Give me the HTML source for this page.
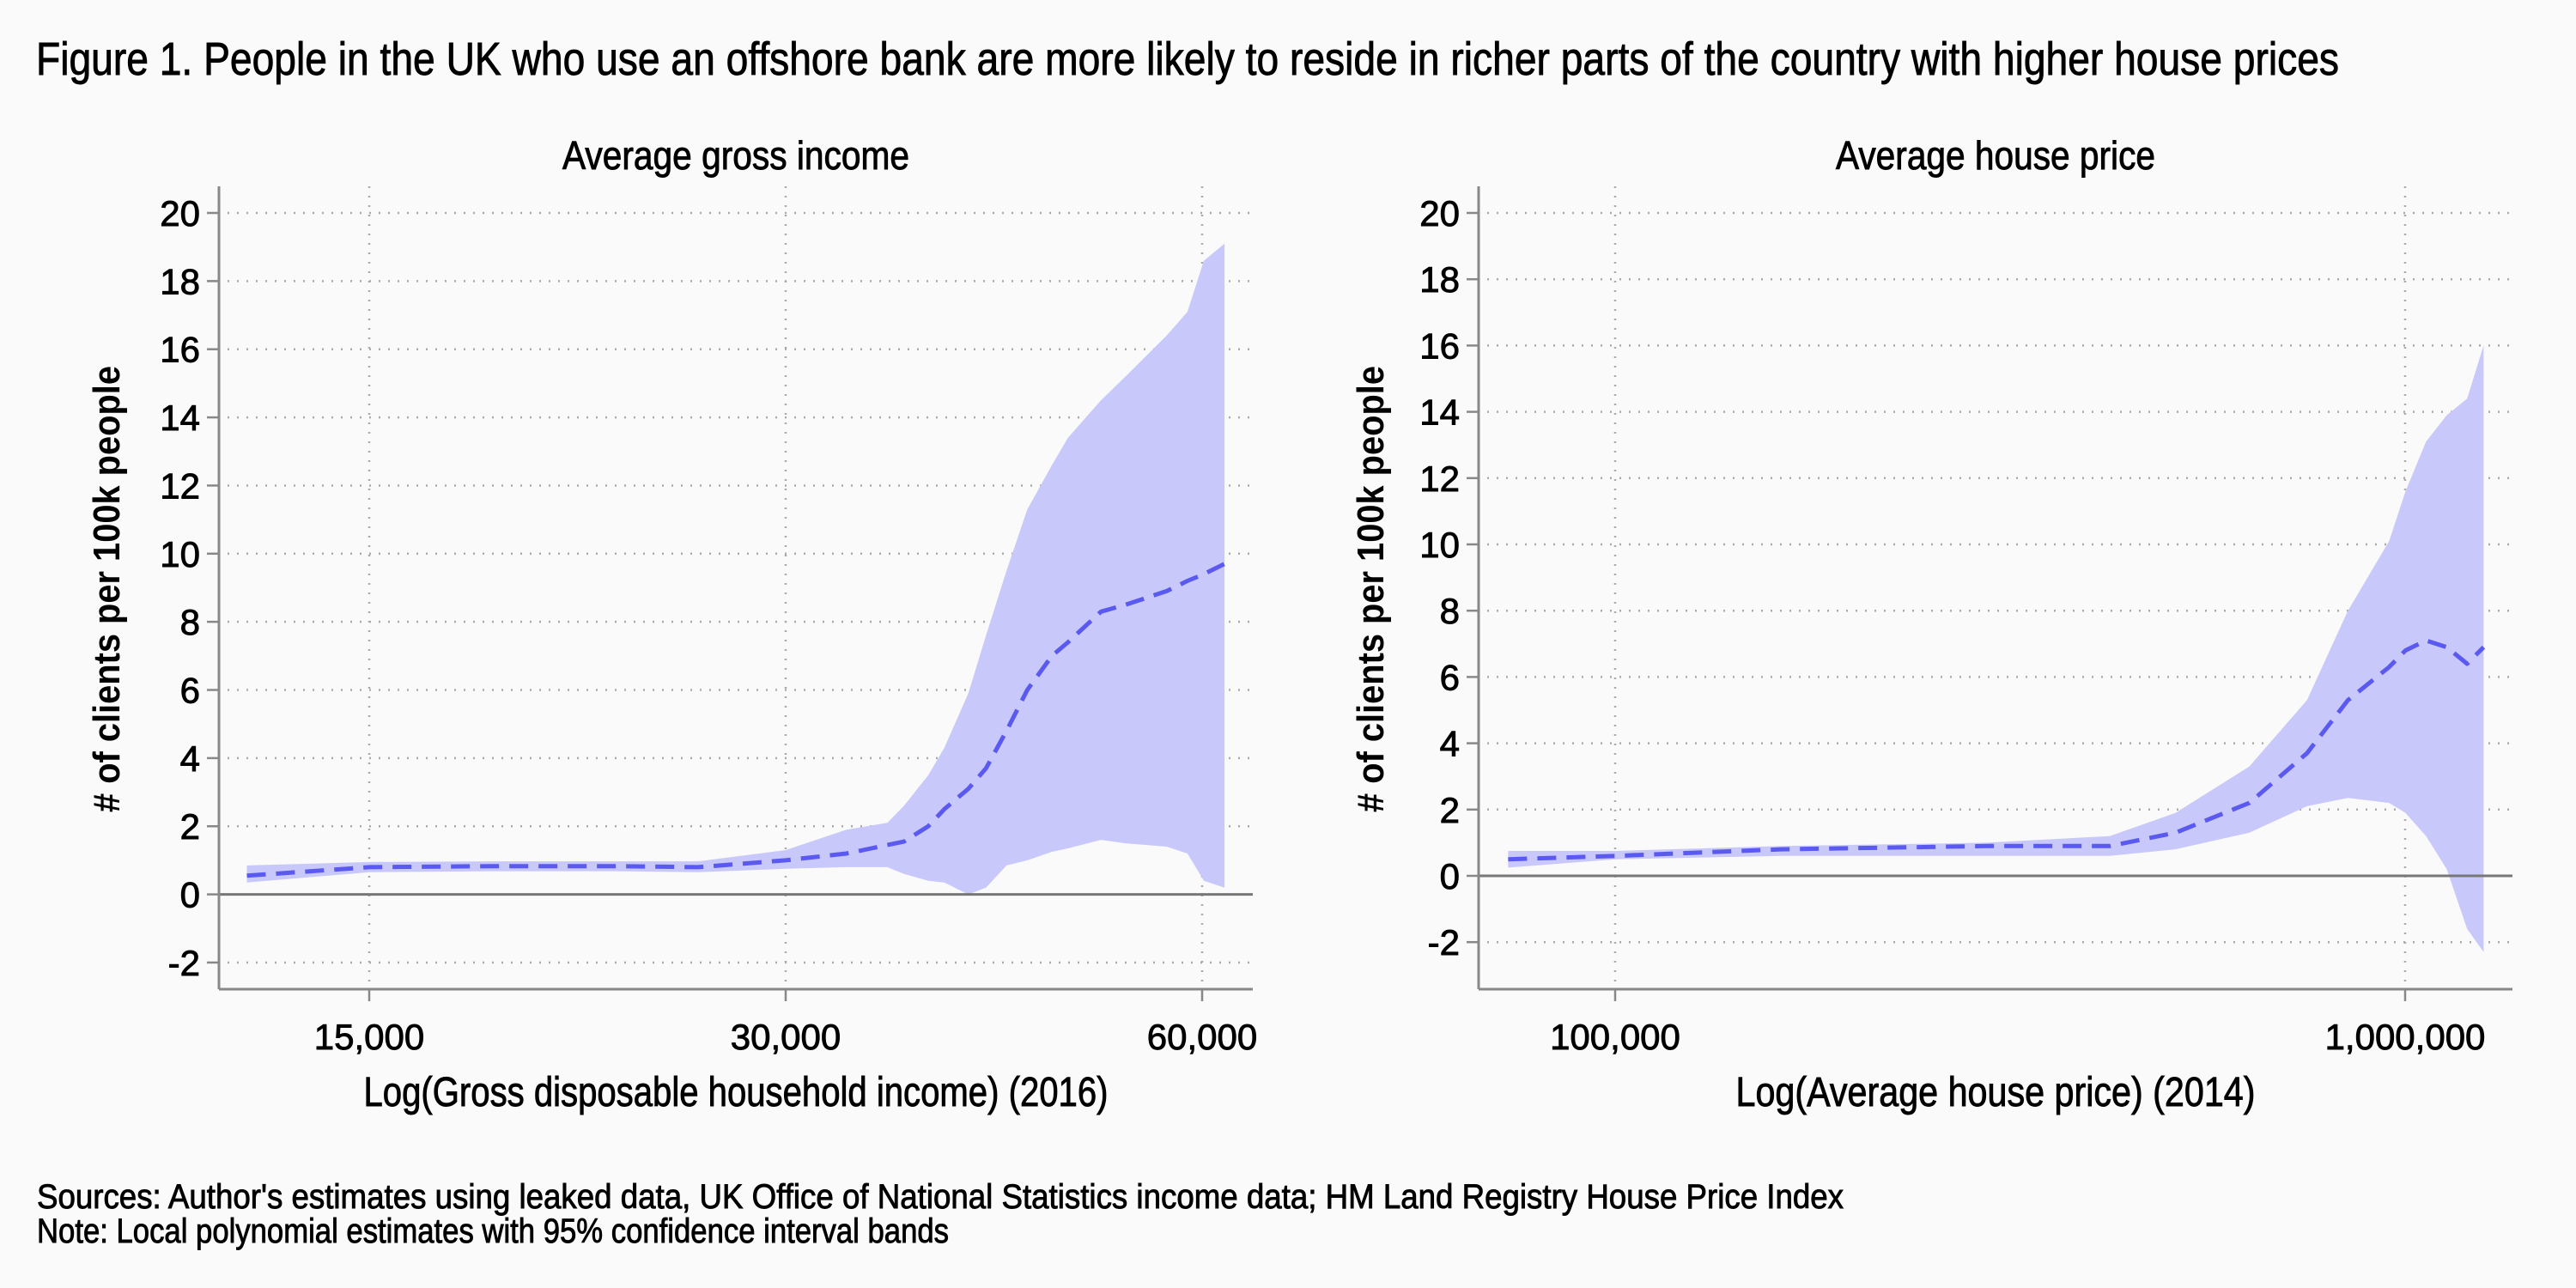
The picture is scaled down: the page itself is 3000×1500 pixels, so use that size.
<!DOCTYPE html>
<html><head><meta charset="utf-8"><style>
html,body{margin:0;padding:0;background:#fafafa;}
svg{display:block;}
text{font-family:"Liberation Sans Narrow","Liberation Sans",sans-serif;fill:#000;stroke:#000;stroke-width:0.9px;}
</style></head><body>
<svg id="chart" width="3000" height="1500" viewBox="0 0 3000 1500" xmlns="http://www.w3.org/2000/svg">
<rect width="3000" height="1500" fill="#fafafa"/>
<text x="42" y="87" font-size="54" textLength="2682" lengthAdjust="spacingAndGlyphs">Figure 1. People in the UK who use an offshore bank are more likely to reside in richer parts of the country with higher house prices</text>
<text x="43" y="1407" font-size="40" textLength="2104" lengthAdjust="spacingAndGlyphs">Sources: Author's estimates using leaked data, UK Office of National Statistics income data; HM Land Registry House Price Index</text>
<text x="43" y="1447" font-size="40" textLength="1062" lengthAdjust="spacingAndGlyphs">Note: Local polynomial estimates with 95% confidence interval bands</text>
<g id="p1"></g>
<g id="p2"></g>
</svg>
<script>
// Panel 1: income
const incomeX = [12236,15000,18424,22630,25930,30000,33190,35530,36530,38040,39060,40660,41870,43330,44850,46730,47990,50700,52810,56560,58550,60170,62280];
const incomeMean = [0.55,0.8,0.83,0.83,0.8,1.0,1.2,1.45,1.55,2.0,2.5,3.1,3.7,4.8,6.0,7.0,7.4,8.3,8.5,8.9,9.2,9.4,9.7];
const incomeUpper = [0.85,0.95,0.97,0.97,0.97,1.3,1.9,2.1,2.6,3.5,4.3,5.9,7.6,9.5,11.3,12.6,13.4,14.5,15.2,16.4,17.1,18.6,19.1];
const incomeLower = [0.35,0.65,0.68,0.68,0.65,0.75,0.8,0.8,0.6,0.4,0.35,0.0,0.2,0.85,1.0,1.25,1.35,1.6,1.5,1.4,1.2,0.4,0.2];
const incomeTicks = [15000,30000,60000];
const incomeTickLabels = ["15,000","30,000","60,000"];
// Panel 2: house price
const priceX = [73200,100000,162200,295100,422700,511900,635100,751300,846500,954600,1001000,1063000,1129000,1198000,1257000];
const priceMean = [0.5,0.6,0.8,0.9,0.9,1.3,2.2,3.7,5.3,6.3,6.8,7.1,6.9,6.4,6.9];
const priceUpper = [0.75,0.75,0.9,1.0,1.2,1.9,3.3,5.3,8.0,10.1,11.6,13.1,13.9,14.4,16.0];
const priceLower = [0.25,0.5,0.6,0.6,0.6,0.8,1.3,2.1,2.35,2.2,1.9,1.2,0.2,-1.6,-2.3];
const priceTicks = [100000,1000000];
const priceTickLabels = ["100,000","1,000,000"];
const yTicks = [-2,0,2,4,6,8,10,12,14,16,18,20];

const NS="http://www.w3.org/2000/svg";
function mk(parent,tag,attrs,txt){const e=document.createElementNS(NS,tag);for(const k in attrs)e.setAttribute(k,attrs[k]);if(txt!==undefined)e.textContent=txt;parent.appendChild(e);return e;}

function panel(g,cfg){
  const {x0,x1,yTop,yBot,y0,y20,xs,mean,up,lo,ticks,tickLabels,title,titleW,titleCx,xTitle,xTitleW,yTitleX} = cfg;
  const X=cfg.xScale, Y=v=>y0+(y20-y0)*v/20;
  yTicks.forEach(t=>{
    if(t!==0){const l=mk(g,'line',{x1:x0+10,x2:x1,y1:Y(t),y2:Y(t),stroke:'#aaa','stroke-width':2.5,'stroke-dasharray':'2 9'});
    
    }
    const tk=mk(g,'line',{x1:x0-14,x2:x0,y1:Y(t),y2:Y(t),stroke:'#888','stroke-width':2.5});
    
    
    const lb=mk(g,'text',{x:x0-22,y:Y(t)+15,'font-size':42,'text-anchor':'end'},String(t));
    
    
  });
  ticks.forEach((t,i)=>{
    const l=mk(g,'line',{x1:X(t),x2:X(t),y1:yTop,y2:yBot,stroke:'#aaa','stroke-width':2.5,'stroke-dasharray':'2 9'});
    
    
    const tk=mk(g,'line',{x1:X(t),x2:X(t),y1:yBot,y2:yBot+14,stroke:'#888','stroke-width':2.5});
    
    
    const lb=mk(g,'text',{x:X(t),y:1222,'font-size':42,'text-anchor':'middle'},tickLabels[i]);
    
    
  });
  let d='M'+xs.map((v,i)=>X(v).toFixed(1)+','+Y(up[i]).toFixed(1)).join(' L');
  for(let i=xs.length-1;i>=0;i--) d+=' L'+X(xs[i]).toFixed(1)+','+Y(lo[i]).toFixed(1);
  const band=mk(g,'path',{d:d+'Z',fill:'#c8c8fa'});
  
  
  const z=mk(g,'line',{x1:x0,x2:x1,y1:Y(0),y2:Y(0),stroke:'#777','stroke-width':3});
  
  
  const ln=mk(g,'path',{d:'M'+xs.map((v,i)=>X(v).toFixed(1)+','+Y(mean[i]).toFixed(1)).join(' L'),fill:'none',stroke:'#5a5af0','stroke-width':5,'stroke-dasharray':'22 12','stroke-linejoin':'round'});
  
  
  const ya=mk(g,'line',{x1:x0,x2:x0,y1:yTop,y2:yBot,stroke:'#888','stroke-width':3});
  
  
  const xa=mk(g,'line',{x1:x0,x2:x1,y1:yBot,y2:yBot,stroke:'#888','stroke-width':3});
  
  
  const tt=mk(g,'text',{x:titleCx-titleW/2,y:197,'font-size':46,textLength:titleW,lengthAdjust:'spacingAndGlyphs'},title);
  
  
  const xt=mk(g,'text',{x:titleCx-xTitleW/2,y:1288,'font-size':48,textLength:xTitleW,lengthAdjust:'spacingAndGlyphs'},xTitle);
  
  
  const yt=mk(g,'text',{x:0,y:0,'font-size':44,'font-weight':'bold',textLength:520,lengthAdjust:'spacingAndGlyphs',transform:`translate(${yTitleX+15},${686+260}) rotate(-90)`,style:'font-family:"Liberation Sans",sans-serif;stroke-width:0'},'# of clients per 100k people');
  
  
}

panel(document.getElementById('p1'),{x0:255,x1:1459,yTop:217,yBot:1152,y0:1041.6,y20:248,
  xScale:v=>430+485*Math.log2(v/15000),xs:incomeX,mean:incomeMean,up:incomeUpper,lo:incomeLower,
  ticks:incomeTicks,tickLabels:incomeTickLabels,title:'Average gross income',titleW:404,titleCx:857,
  xTitle:'Log(Gross disposable household income) (2016)',xTitleW:867,yTitleX:124});
panel(document.getElementById('p2'),{x0:1722,x1:2926,yTop:217,yBot:1152,y0:1020,y20:248,
  xScale:v=>1881+920*Math.log10(v/100000),xs:priceX,mean:priceMean,up:priceUpper,lo:priceLower,
  ticks:priceTicks,tickLabels:priceTickLabels,title:'Average house price',titleW:372,titleCx:2324,
  xTitle:'Log(Average house price) (2014)',xTitleW:605,yTitleX:1596});
</script>
</body></html>
